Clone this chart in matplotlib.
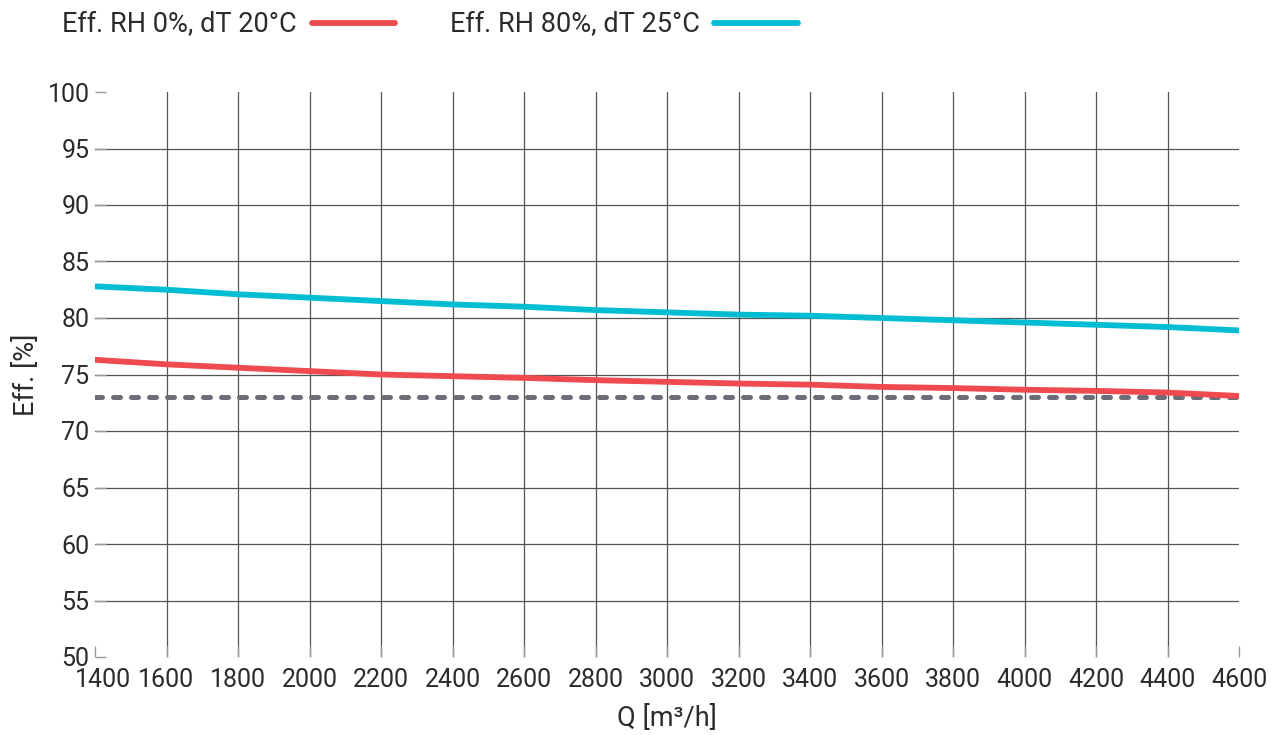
#!/usr/bin/env python3
"""Efficiency vs air flow chart."""

import matplotlib

matplotlib.use("Agg")
import matplotlib.pyplot as plt
import matplotlib.transforms as mtransforms

plt.rcParams["font.family"] = ["Roboto", "DejaVu Sans"]

# data
flow = [1400, 1600, 1800, 2000, 2200, 2400, 2600, 2800, 3000,
        3200, 3400, 3600, 3800, 4000, 4200, 4400, 4600]
eff_rh0 = [76.3, 75.9, 75.6, 75.3, 75.0, 74.85, 74.7, 74.5, 74.35,
           74.2, 74.1, 73.9, 73.8, 73.65, 73.55, 73.4, 73.1]
eff_rh80 = [82.8, 82.5, 82.1, 81.8, 81.5, 81.2, 81.0, 80.7, 80.5,
            80.3, 80.2, 80.0, 79.8, 79.6, 79.4, 79.2, 78.9]
limit = 73.0

x_ticks = list(range(1400, 4601, 200))
y_ticks = list(range(50, 101, 5))

RED = "#ef4a4f"
CYAN = "#00bdd1"
DASH = "#6b6e78"
GRID = "#555555"
TICK = "#9a9a9a"
TEXT = "#2b2b2b"

fig = plt.figure(figsize=(12.76, 7.35), dpi=100)
ax = fig.add_axes([95 / 1276, 1 - 657 / 735, (1239 - 95) / 1276, (657 - 92) / 735])

# grid, without the frame lines
for x in x_ticks[1:-1]:
    ax.axvline(x, color=GRID, lw=0.9, zorder=1)
for y in y_ticks[1:-1]:
    ax.axhline(y, color=GRID, lw=0.9, zorder=1)

ax.plot(flow, [limit] * len(flow), color=DASH, lw=3.6, ls=(0, (1.4, 2.2)),
        dash_capstyle="round", zorder=3)
ax.plot(flow, eff_rh0, color=RED, lw=4.2, solid_capstyle="round", zorder=4,
        label="Eff. RH 0%, dT 20°C")
ax.plot(flow, eff_rh80, color=CYAN, lw=4.2, solid_capstyle="round", zorder=4,
        label="Eff. RH 80%, dT 25°C")

ax.set_xlim(1400, 4600)
ax.set_ylim(50, 100)
ax.set_xticks(x_ticks)
ax.set_yticks(y_ticks)
for s in ax.spines.values():
    s.set_visible(False)
ax.tick_params(direction="in", length=8, width=1.0, color=TICK,
               labelsize=18, labelcolor=TEXT)
ax.tick_params(axis="x", pad=8)
ax.tick_params(axis="y", pad=4)

# first x label nudged right so it clears the "50"
first = ax.get_xticklabels()[0]
first.set_transform(first.get_transform() +
                    mtransforms.ScaledTranslation(8 / 100, 0, fig.dpi_scale_trans))

ax.set_xlabel("Q [m³/h]", fontsize=19.5, color=TEXT, labelpad=9)
ax.set_ylabel("Eff. [%]", fontsize=19.5, color=TEXT, labelpad=5)

fig.legend(loc="upper left", bbox_to_anchor=(62 / 1276, 1 - 11 / 735), ncol=2,
           frameon=False, markerfirst=False, fontsize=19.5, handlelength=3.1,
           handletextpad=0.55, columnspacing=2.0, borderpad=0, borderaxespad=0,
           labelcolor=TEXT)

fig.savefig("out.png", dpi=100)
